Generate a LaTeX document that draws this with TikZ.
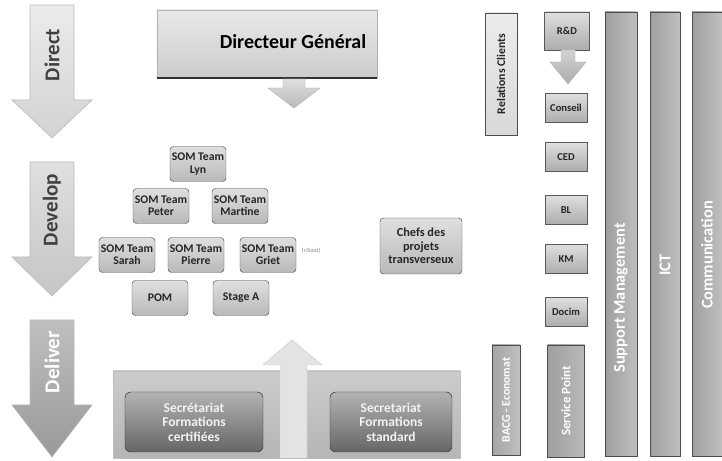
\documentclass[tikz,border=0pt]{standalone}
\usepackage{fontspec}
\setmainfont{Carlito}
\begin{document}
\begin{tikzpicture}[x=0.03cm,y=-0.03cm,
  bigarrow/.style={draw=gray!55,line width=0.5pt},
  armlabel/.style={rotate=90,font=\bfseries\fontsize{18}{19}\selectfont},
  somb/.style={draw=black!70,rounded corners=3pt,top color=gray!25,bottom color=gray!55,
    font=\bfseries\fontsize{10}{10.5}\selectfont,align=center,inner sep=1pt,text=black!85,
    minimum width=1.68cm,minimum height=1.05cm},
  darkb/.style={draw=black!80,rounded corners=5pt,top color=gray!60,bottom color=gray!80!black,
    font=\bfseries\fontsize{11.5}{12.5}\selectfont,align=center,inner sep=1pt,text=gray!10},
  colb/.style={draw=gray!70!black,top color=gray!25,bottom color=gray!65,
    font=\bfseries\fontsize{9}{10}\selectfont,text=black!85,inner sep=1pt,
    minimum width=1.26cm,minimum height=0.87cm},
  vbox/.style={rotate=90,draw=gray!60!black,inner sep=1pt,font=\bfseries\fontsize{10}{11}\selectfont},
  barb/.style={rotate=90,draw=gray!60!black,inner sep=0pt,left color=gray!75,right color=gray!50},
  barlabel/.style={rotate=90,font=\bfseries\fontsize{14}{15}\selectfont,text=white}
]
\useasboundingbox[fill=white] (0,0) rectangle (722,461);

% left arrows
\path[bigarrow,top color=gray!15,bottom color=gray!35]
  (30,5) -- (74,5) -- (74,100) -- (92,100) -- (52,138) -- (12,100) -- (30,100) -- cycle;
\node[armlabel,text=black!75] (ldirect) at (52,55) {Direct};
\path[bigarrow,top color=gray!25,bottom color=gray!45]
  (30,162) -- (74,162) -- (74,257) -- (92,257) -- (52,296) -- (12,257) -- (30,257) -- cycle;
\node[armlabel,text=black!75] (ldevelop) at (52,210) {Develop};
\path[bigarrow,top color=gray!50,bottom color=gray!80]
  (30,320) -- (74,320) -- (74,405) -- (92,405) -- (52,457) -- (12,405) -- (30,405) -- cycle;
\node[armlabel,text=white] (ldeliver) at (52,362) {Deliver};

% Directeur General
\node[draw=gray!60,top color=gray!18,bottom color=gray!40,minimum width=6.6cm,minimum height=2.04cm,inner sep=0pt] (dg) at (267,44) {};
\draw[black!80,line width=1.5pt] (dg.south west) -- (dg.south east);
\node[font=\bfseries\fontsize{17}{18}\selectfont] (dgt) at (293,42) {Directeur Général};
\path[draw=gray!60,top color=gray!25,bottom color=gray!55]
  (283,79) -- (283,88) -- (268,88) -- (294,108) -- (320,88) -- (305,88) -- (305,79) -- cycle;

% SOM teams
\node[somb] (lyn) at (198,164) {SOM Team\\Lyn};
\node[somb] (peter) at (161,206) {SOM Team\\Peter};
\node[somb] (martine) at (240,206) {SOM Team\\Martine};
\node[somb] (sarah) at (127,255) {SOM Team\\Sarah};
\node[somb] (pierre) at (196,255) {SOM Team\\Pierre};
\node[somb] (griet) at (268,255) {SOM Team\\Griet};
\node[somb] (pom) at (160,298) {POM};
\node[somb] (stage) at (241,298) {Stage A};
\node[font=\fontsize{5}{6}\selectfont,text=gray] (small) at (311,251) {(+Staat)};
\node[somb,minimum width=2.46cm,minimum height=1.68cm,font=\bfseries\fontsize{10.5}{11.5}\selectfont] (chefs) at (421,246) {Chefs des\\projets\\transverseux};

% bottom band
\path[draw=gray!50,top color=gray!40,bottom color=gray!58] (113,371) rectangle (460,458);
\path[draw=gray!40,fill=gray!22]
  (263,365) -- (292,340) -- (322,365) -- (307,365) -- (307,458) -- (280,458) -- (280,365) -- cycle;
\node[darkb,minimum width=4.14cm,minimum height=1.8cm] (sfc) at (194,422) {Secrétariat\\Formations\\certifiées};
\node[darkb,minimum width=3.66cm,minimum height=1.8cm] (sfs) at (391,422) {Secretariat\\Formations\\standard};

% right part
\node[vbox,top color=gray!15,bottom color=gray!30,minimum width=3.66cm,minimum height=0.96cm,text=black!85] (rc) at (501,74) {Relations Clients};
\node[colb,minimum height=1.14cm,minimum width=1.35cm] (rd) at (567,31) {R\&D};
\path[draw=gray!60,top color=gray!35,bottom color=gray!65]
  (561,50) -- (561,62) -- (550,62) -- (568,84) -- (586,62) -- (575,62) -- (575,50) -- cycle;
\node[colb] (conseil) at (566,108) {Conseil};
\node[colb] (ced) at (566,157) {CED};
\node[colb] (bl) at (566,210) {BL};
\node[colb] (km) at (566,259) {KM};
\node[colb] (docim) at (566,312) {Docim};
\node[vbox,left color=gray!70,right color=gray!50,minimum width=3.3cm,minimum height=0.84cm,text=white] (bacg) at (506,400) {BACG - Economat};
\node[vbox,left color=gray!75,right color=gray!55,minimum width=3.36cm,minimum height=1.11cm,text=white,font=\bfseries\fontsize{11}{12}\selectfont] (sp) at (566,401) {Service Point};

\node[barb,minimum width=13.32cm,minimum height=0.96cm] (sm) at (621,234) {};
\node[barlabel] (smt) at (621,298) {Support Management};
\node[barb,minimum width=13.32cm,minimum height=0.9cm] (ict) at (665,234) {};
\node[barlabel] (ictt) at (665,265) {ICT};
\node[barb,minimum width=13.32cm,minimum height=0.9cm] (comm) at (707,234) {};
\node[barlabel] (commt) at (707,255) {Communication};
\end{tikzpicture}
\end{document}
